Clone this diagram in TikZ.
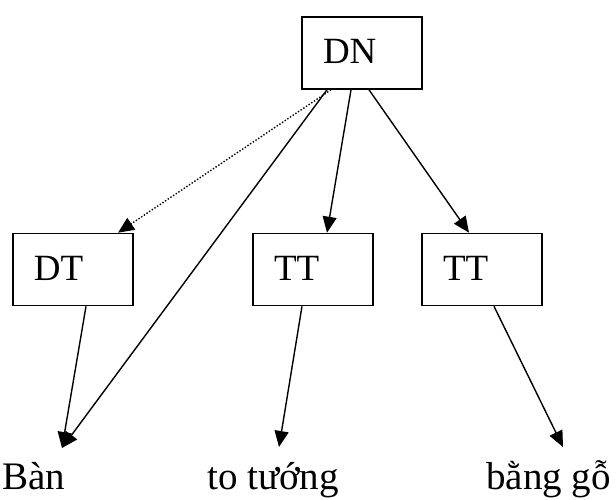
\documentclass[tikz,border=0pt]{standalone}
\usepackage{fontspec}
\setmainfont{Liberation Serif}
\usetikzlibrary{arrows.meta}

\begin{document}
\begin{tikzpicture}[x=1pt, y=-1pt,
		box/.style={draw, line width=1.6pt, minimum height=72pt, text width=78pt, inner xsep=21pt,
			align=left, text height=26pt, text depth=4pt, font=\fontsize{37}{40}\selectfont},
		word/.style={inner sep=0pt, anchor=base west, font=\fontsize{39}{42}\selectfont},
		arr/.style={line width=1.4pt, -{Triangle[length=16pt,width=14pt]}}]
			\useasboundingbox (0,0) rectangle (616,500);

			\draw node[box] (dn) at (362,53) {DN};
			\draw node[box] (dt) at (73,269.5) {DT};
			\draw node[box] (tt1) at (313,269.5) {TT};
			\draw node[box] (tt2) at (482,269.5) {TT};

			\draw node[word] (ban) at (2,489) {Bàn};
			\draw node[word] (to) at (207,489) {to tướng};
			\draw node[word] (go) at (486,489) {bằng gỗ};

			\coordinate (t1) at (62,448);
			\coordinate (t2) at (279,447);
			\coordinate (t3) at (563,447);

			\draw[arr, dash pattern=on 1.4pt off 1.8pt] ([xshift=-31pt]dn.south) -- ([xshift=45pt]dt.north);
			\draw[arr] ([xshift=-35pt]dn.south) -- (t1);
			\draw[arr] ([xshift=-11pt]dn.south) -- ([xshift=14pt]tt1.north);
			\draw[arr] ([xshift=7pt]dn.south) -- ([xshift=-13pt]tt2.north);

			\draw[arr] ([xshift=13pt]dt.south) -- (t1);
			\draw[arr] ([xshift=-11pt]tt1.south) -- (t2);
			\draw[arr] ([xshift=12pt]tt2.south) -- (t3);
		\end{tikzpicture}
\end{document}
